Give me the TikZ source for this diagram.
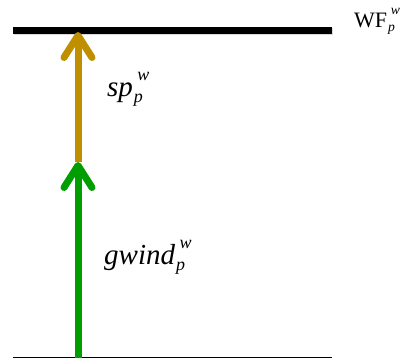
\documentclass[tikz,border=0pt]{standalone}
\usepackage{fontspec}
\setmainfont{Liberation Serif}
\usetikzlibrary{arrows.meta}
\definecolor{goldc}{RGB}{191,143,0}
\definecolor{greenc}{RGB}{0,158,0}
\newcommand{\wpidx}{\kern1pt\rlap{\kern0.12em\raisebox{0.55em}{\fontsize{0.62em}{0.62em}\selectfont\itshape w}}\raisebox{-0.22em}{\fontsize{0.62em}{0.62em}\selectfont\itshape p}}
\tikzset{
  flow/.style={line width=7pt, -{Straight Barb[length=22pt,width=28pt,round]}},
  lab/.style={anchor=base west, inner sep=0pt, font=\fontsize{29}{32}\selectfont},
}
\begin{document}
\begin{tikzpicture}[x=1pt,y=1pt]
\useasboundingbox (0,0) rectangle (404,360);
% levels
\coordinate (tl) at (13,330);
\coordinate (tr) at (332,330);
\coordinate (bl) at (13,2.5);
\coordinate (br) at (332,2.5);
\coordinate (g0) at (78,2.5);
\coordinate (g1) at (78,198);
\coordinate (g2) at (78,328);
% shadow of the top level
\draw[line width=7pt, gray!30] ([shift={(1,-1.5)}]tl) -- ([shift={(1,-1.5)}]tr);
\draw[line width=7pt] (tl) -- (tr);
\draw[line width=1.5pt] (bl) -- (br);
\draw[flow, goldc] (g1) -- (g2);
\draw[flow, greenc] (g0) -- (g1);
\node[lab, font=\fontsize{22}{26}\selectfont] (wf) at (354,333) {WF\wpidx};
\node[lab] (sp) at (107,264) {\itshape sp\wpidx};
\node[lab] (gw) at (104,96) {\itshape gwind\wpidx};
\end{tikzpicture}
\end{document}
